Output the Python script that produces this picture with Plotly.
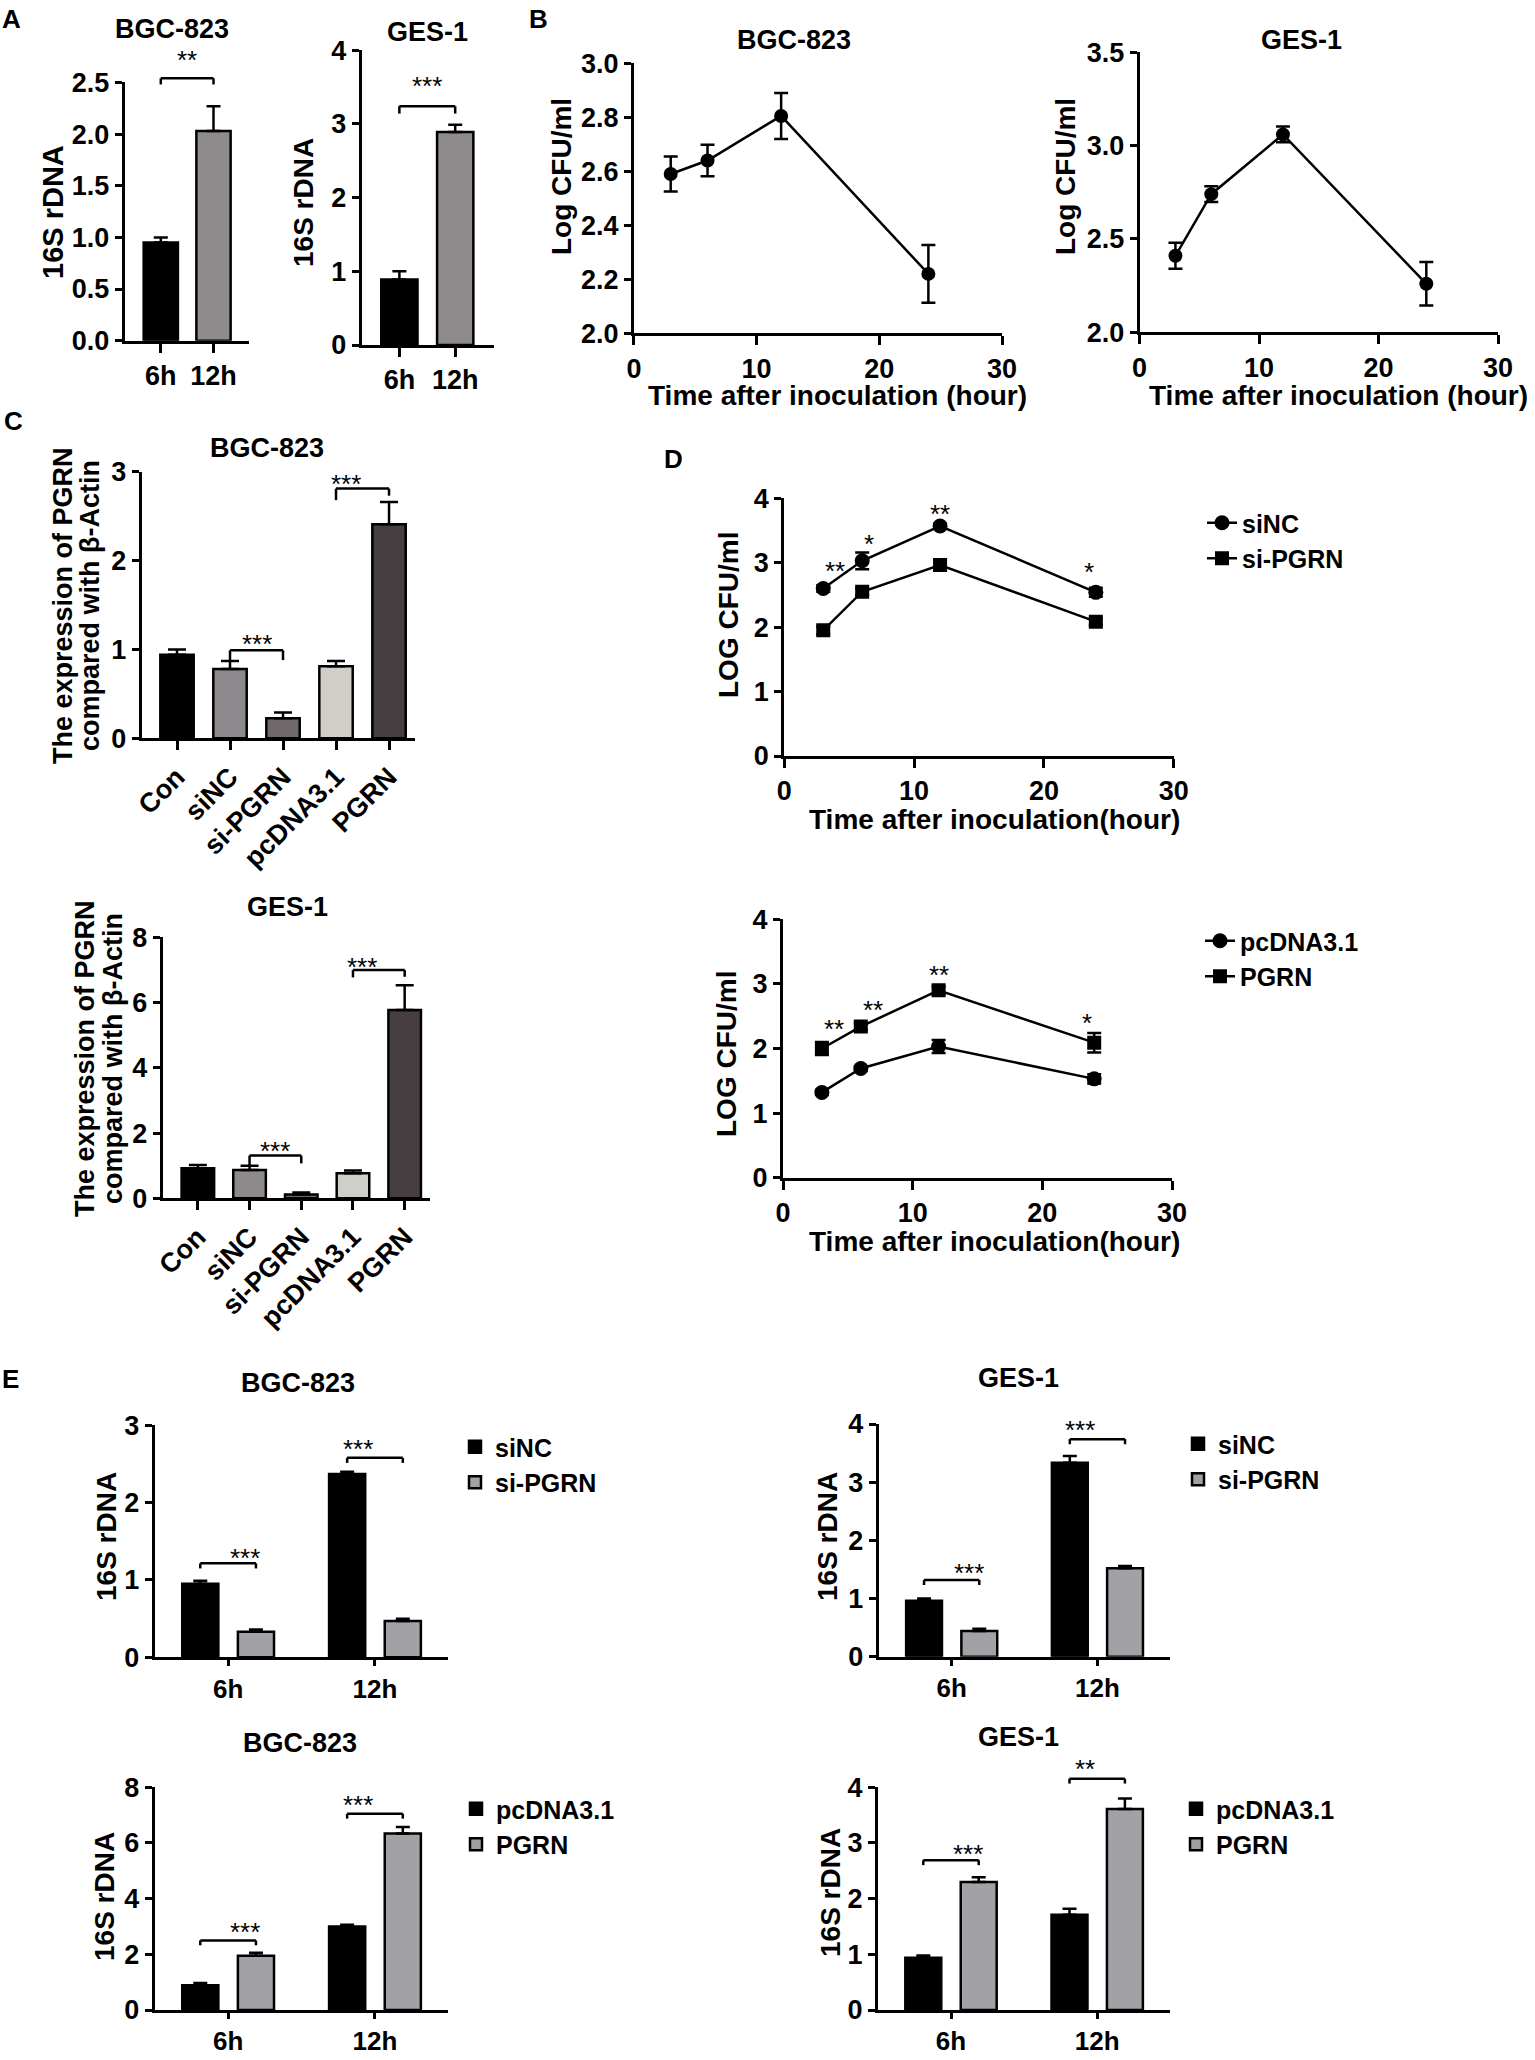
import plotly.graph_objects as go

W, H = 1535, 2060
FONT = "Liberation Sans, Arial, Helvetica, sans-serif"

# ---------------- data ----------------
# A: 16S rDNA, 6h vs 12h
a_times = ["6h", "12h"]
a1_vals = [0.95, 2.03]
a1_err = [0.05, 0.24]
a2_vals = [0.89, 2.89]
a2_err = [0.11, 0.10]

# B: Log CFU/ml after inoculation
b_hours = [3, 6, 12, 24]
b1_vals = [2.59, 2.64, 2.805, 2.22]
b1_err = [0.065, 0.058, 0.085, 0.107]
b2_vals = [2.41, 2.74, 3.06, 2.26]
b2_err = [0.07, 0.042, 0.042, 0.116]

# C: PGRN expression relative to beta-actin
c_groups = ["Con", "siNC", "si-PGRN", "pcDNA3.1", "PGRN"]
c1_vals = [0.94, 0.78, 0.225, 0.81, 2.41]
c1_err = [0.06, 0.09, 0.065, 0.06, 0.25]
c2_vals = [0.92, 0.87, 0.12, 0.77, 5.77]
c2_err = [0.10, 0.13, 0.06, 0.08, 0.76]

# D: LOG CFU/ml, knock-down / over-expression
d_hours = [3, 6, 12, 24]
d1_sinc = [2.60, 3.03, 3.57, 2.54]
d1_sinc_err = [0.05, 0.13, 0.04, 0.07]
d1_sipgrn = [1.95, 2.55, 2.965, 2.085]
d1_sipgrn_err = [0.06, 0.05, 0.09, 0.05]
d1_stars = ["**", "*", "**", "*"]
d1_star_y = [2.99, 3.42, 3.88, 2.98]
d2_pcdna = [1.32, 1.69, 2.03, 1.53]
d2_pcdna_err = [0.04, 0.04, 0.10, 0.07]
d2_pgrn = [2.00, 2.34, 2.90, 2.09]
d2_pgrn_err = [0.10, 0.05, 0.06, 0.15]
d2_stars = ["**", "**", "**", "*"]
d2_star_y = [2.42, 2.72, 3.26, 2.52]

# E: 16S rDNA, grouped
e_times = ["6h", "12h"]
e1_sinc = [0.95, 2.37]
e1_sinc_err = [0.04, 0.03]
e1_sipgrn = [0.33, 0.47]
e1_sipgrn_err = [0.03, 0.03]
e2_sinc = [0.96, 3.335]
e2_sinc_err = [0.04, 0.115]
e2_sipgrn = [0.44, 1.52]
e2_sipgrn_err = [0.04, 0.04]
e3_pcdna = [0.89, 3.00]
e3_pcdna_err = [0.08, 0.06]
e3_pgrn = [1.95, 6.34]
e3_pgrn_err = [0.11, 0.23]
e4_pcdna = [0.94, 1.71]
e4_pcdna_err = [0.04, 0.11]
e4_pgrn = [2.30, 3.61]
e4_pgrn_err = [0.085, 0.19]

# significance brackets: (bar a, bar b, level, drop a, drop b, label, label level)
a1_sig = [(0, 1, 2.54, 0.06, 0.06, "**", 2.79)]
a2_sig = [(0, 1, 3.24, 0.10, 0.10, "***", 3.62)]
c1_sig = [(1, 2, 0.99, 0.12, 0.11, "***", 1.15), (3, 4, 2.81, 0.13, 0.08, "***", 2.95)]
c2_sig = [(1, 2, 1.31, 0.29, 0.24, "***", 1.70), (3, 4, 7.00, 0.23, 0.21, "***", 7.34)]
# grouped: (group, level, label level, label)
e1_sig = [(0, 1.215, 1.39, "***"), (1, 2.58, 2.80, "***")]
e2_sig = [(0, 1.32, 1.58, "***"), (1, 3.74, 4.04, "***")]
e3_sig = [(0, 2.50, 3.10, "***"), (1, 7.05, 7.66, "***")]
e4_sig = [(0, 2.69, 2.95, "***"), (1, 4.155, 4.47, "**")]

GRAY_A = "#8f8a8c"
GRAY_E = "#a2a2a6"
C_COLORS = ["#000000", "#8e898c", "#6f696b", "#d0cec9", "#473e42"]

fig = go.Figure()
layout = {}
annotations = []
shapes = []


def tf(size=27):
    return dict(family=FONT, size=size, color="black", weight="bold")


def set_axes(n, x0, x1, ytop, ybot, xr, yr, xkw=None, ykw=None):
    sfx = "" if n == 1 else str(n)
    base = dict(showline=True, linecolor="black", linewidth=3, ticks="outside",
                tickcolor="black", tickwidth=3, showgrid=False, zeroline=False,
                tickfont=tf(), fixedrange=True)
    xa = dict(base, domain=[x0 / W, x1 / W], range=xr, anchor="y" + sfx, ticklen=9)
    ya = dict(base, domain=[1 - ybot / H, 1 - ytop / H], range=yr, anchor="x" + sfx, ticklen=7)
    xa.update(xkw or {})
    ya.update(ykw or {})
    layout["xaxis" + sfx] = xa
    layout["yaxis" + sfx] = ya
    return sfx


def text(x, y, s, size=28, angle=0, xanchor="center", yanchor="middle"):
    annotations.append(dict(x=x / W, y=1 - y / H, xref="paper", yref="paper", text=s,
                            showarrow=False, font=tf(size), textangle=angle,
                            xanchor=xanchor, yanchor=yanchor))


def frac(v, rng):
    return (v - rng[0]) / (rng[1] - rng[0])


def seg(sfx, xr, yr, xa, ya, xb, yb):
    shapes.append(dict(type="line", xref="x" + sfx + " domain", yref="y" + sfx + " domain",
                       x0=frac(xa, xr), y0=frac(ya, yr), x1=frac(xb, xr), y1=frac(yb, yr),
                       line=dict(color="black", width=2.5)))


def star(sfx, xr, yr, x, y, s, size=26):
    annotations.append(dict(x=frac(x, xr), y=frac(y, yr), xref="x" + sfx + " domain",
                            yref="y" + sfx + " domain", text=s, showarrow=False,
                            font=dict(family=FONT, size=size, color="black"),
                            yanchor="middle", yshift=-8))


def bracket(sfx, xr, yr, sig):
    for a, b, lev, da, db, lab, ly in sig:
        seg(sfx, xr, yr, a, lev - da, a, lev)
        seg(sfx, xr, yr, a, lev, b, lev)
        seg(sfx, xr, yr, b, lev, b, lev - db)
        star(sfx, xr, yr, (a + b) / 2, ly, lab)


def err(arr, w=7, sym=False):
    e = dict(type="data", array=arr, color="black", thickness=2.5, width=w)
    if not sym:
        e.update(symmetric=False, arrayminus=[0] * len(arr))
    return e


# ---------------- A ----------------
xr, yr = [-0.685, 1.666], [0, 2.5]
s = set_axes(1, 124.7, 248.6, 82.4, 340.7, xr, yr, ykw=dict(dtick=0.5, tickformat=".1f"))
fig.add_trace(go.Bar(x=a_times, y=a1_vals, width=0.65, marker=dict(color=["black", GRAY_A],
              line=dict(color="black", width=2.5)), error_y=err(a1_err), showlegend=False,
              xaxis="x" + s, yaxis="y" + s))
bracket(s, xr, yr, a1_sig)
text(172, 29, "BGC-823", 27)
text(53, 212, "16S rDNA", 29, -90)

xr, yr = [-0.677, 1.695], [0, 4]
s = set_axes(2, 361.6, 494, 50.2, 345, xr, yr, ykw=dict(dtick=1))
fig.add_trace(go.Bar(x=a_times, y=a2_vals, width=0.65, marker=dict(color=["black", GRAY_A],
              line=dict(color="black", width=2.5)), error_y=err(a2_err), showlegend=False,
              xaxis="x" + s, yaxis="y" + s))
bracket(s, xr, yr, a2_sig)
text(427, 32, "GES-1", 27)
text(303, 203, "16S rDNA", 28, -90)

# ---------------- B ----------------
for n, x0, x1, yt, yb, yr, dt, vals, errs, title, tx, ty, lx in [
    (3, 633.9, 1002, 63.3, 333.3, [2.0, 3.0], 0.2, b1_vals, b1_err, "BGC-823", 794, 40, 561),
    (4, 1139.6, 1498, 52.3, 332.3, [2.0, 3.5], 0.5, b2_vals, b2_err, "GES-1", 1301, 40, 1065),
]:
    s = set_axes(n, x0, x1, yt, yb, [0, 30], yr, xkw=dict(dtick=10),
                 ykw=dict(dtick=dt, tickformat=".1f"))
    fig.add_trace(go.Scatter(x=b_hours, y=vals, mode="lines+markers",
                             line=dict(color="black", width=2.5),
                             marker=dict(symbol="circle", size=14, color="black"),
                             error_y=err(errs, 7, True), showlegend=False,
                             xaxis="x" + s, yaxis="y" + s))
    text(tx, ty, title, 27)
    text(lx, 177, "Log CFU/ml", 28, -90)
    text((x0 + x1) / 2 + 20, 395, "Time after inoculation (hour)", 28)

# ---------------- C ----------------
for n, x0, x1, yt, yb, xr, yrng, dt, vals, errs, sig, title, tx, ty, l1, l2, ly in [
    (5, 141.7, 415, 471.7, 738.3, [-0.666, 4.49], [0, 3], 1, c1_vals, c1_err, c1_sig,
     "BGC-823", 267, 448, 63, 90, 606),
    (6, 162.7, 430, 937.3, 1198.3, [-0.68, 4.49], [0, 8], 2, c2_vals, c2_err, c2_sig,
     "GES-1", 287, 907, 85, 113, 1059),
]:
    s = set_axes(n, x0, x1, yt, yb, xr, yrng, xkw=dict(tickangle=-45),
                 ykw=dict(dtick=dt))
    fig.add_trace(go.Bar(x=c_groups, y=vals, width=0.63,
                         marker=dict(color=C_COLORS, line=dict(color="black", width=2.5)),
                         error_y=err(errs, 9), showlegend=False,
                         xaxis="x" + s, yaxis="y" + s))
    bracket(s, xr, yrng, sig)
    text(tx, ty, title, 27)
    text(l1, ly, "The expression of PGRN", 27, -90)
    text(l2, ly, "compared with β-Actin", 27, -90)

# ---------------- D ----------------
d_sets = [
    (7, 784.3, 1173.7, 498.3, 756, d1_sinc, d1_sinc_err, "siNC", d1_sipgrn, d1_sipgrn_err,
     "si-PGRN", d1_stars, d1_star_y, 728, 615, 819, "legend", 1202, 500),
    (8, 783, 1172, 919.3, 1177.7, d2_pcdna, d2_pcdna_err, "pcDNA3.1", d2_pgrn, d2_pgrn_err,
     "PGRN", d2_stars, d2_star_y, 726, 1054, 1241, "legend2", 1200, 918),
]
for (n, x0, x1, yt, yb, v1, e1, n1, v2, e2, n2, stars, star_y, lx, ly, xty, leg,
     legx, legy) in d_sets:
    xr, yr = [0, 30], [0, 4]
    s = set_axes(n, x0, x1, yt, yb, xr, yr, xkw=dict(dtick=10), ykw=dict(dtick=1))
    fig.add_trace(go.Scatter(x=d_hours, y=v1, name=n1, mode="lines+markers",
                             line=dict(color="black", width=2.5),
                             marker=dict(symbol="circle", size=15, color="black"),
                             error_y=err(e1, 7, True), legend=leg,
                             xaxis="x" + s, yaxis="y" + s))
    fig.add_trace(go.Scatter(x=d_hours, y=v2, name=n2, mode="lines+markers",
                             line=dict(color="black", width=2.5),
                             marker=dict(symbol="square", size=14, color="black"),
                             error_y=err(e2, 7, True), legend=leg,
                             xaxis="x" + s, yaxis="y" + s))
    for t, st, sy in zip(d_hours, stars, star_y):
        star(s, xr, yr, t, sy, st)
    text(lx, ly, "LOG CFU/ml", 28, -90)
    text(995, xty, "Time after inoculation(hour)", 28)
    layout[leg] = dict(x=legx / W, y=1 - legy / H, xanchor="left", yanchor="top",
                       font=tf(25), bgcolor="rgba(0,0,0,0)", tracegroupgap=0)

# ---------------- E ----------------
GD, BW = 0.379, 0.246
e_sets = [
    (9, 154.7, 448.4, 1425.3, 1657.3, [0, 3], 1, e1_sinc, e1_sinc_err, "siNC", e1_sipgrn,
     e1_sipgrn_err, "si-PGRN", e1_sig, "BGC-823", 298, 1383, 106, 1537, "legend3", 455, 1424),
    (10, 878.8, 1170.3, 1424, 1656.7, [0, 4], 1, e2_sinc, e2_sinc_err, "siNC", e2_sipgrn,
     e2_sipgrn_err, "si-PGRN", e2_sig, "GES-1", 1018, 1378, 827, 1537, "legend4", 1178, 1421),
    (11, 154.7, 448.4, 1787.3, 2010, [0, 8], 2, e3_pcdna, e3_pcdna_err, "pcDNA3.1", e3_pgrn,
     e3_pgrn_err, "PGRN", e3_sig, "BGC-823", 300, 1743, 104, 1897, "legend5", 456, 1786),
    (12, 877.9, 1170.3, 1787.3, 2010, [0, 4], 1, e4_pcdna, e4_pcdna_err, "pcDNA3.1", e4_pgrn,
     e4_pgrn_err, "PGRN", e4_sig, "GES-1", 1018, 1737, 830, 1893, "legend6", 1176, 1786),
]
for (n, x0, x1, yt, yb, yr, dt, v1, e1, n1, v2, e2, n2, sig, title, tx, ty, lx, ly, leg,
     legx, legy) in e_sets:
    xr = [-0.5, 1.5]
    s = set_axes(n, x0, x1, yt, yb, xr, yr, xkw=dict(ticklen=6, tickfont=tf(26)),
                 ykw=dict(dtick=dt))
    fig.add_trace(go.Bar(x=e_times, y=v1, name=n1, width=BW, offset=-GD / 2 - BW / 2,
                         marker=dict(color="black", line=dict(color="black", width=2.5)),
                         error_y=err(e1, 7), legend=leg, xaxis="x" + s, yaxis="y" + s))
    fig.add_trace(go.Bar(x=e_times, y=v2, name=n2, width=BW, offset=GD / 2 - BW / 2,
                         marker=dict(color=GRAY_E, line=dict(color="black", width=2.5)),
                         error_y=err(e2, 7), legend=leg, xaxis="x" + s, yaxis="y" + s))
    dy = (yr[1] - yr[0]) * 0.022
    for g, lev, lab_y, lab in sig:
        seg(s, xr, yr, g - GD / 2, lev - dy, g - GD / 2, lev)
        seg(s, xr, yr, g - GD / 2, lev, g + GD / 2, lev)
        seg(s, xr, yr, g + GD / 2, lev, g + GD / 2, lev - dy)
        star(s, xr, yr, g, lab_y, lab)
    text(tx, ty, title, 27)
    text(lx, ly, "16S rDNA", 28, -90)
    layout[leg] = dict(x=legx / W, y=1 - legy / H, xanchor="left", yanchor="top",
                       font=tf(25), bgcolor="rgba(0,0,0,0)", tracegroupgap=0)

# panel letters
for lab, x, y in [("A", 0, 2), ("B", 527, 2), ("C", 2, 404), ("D", 662, 442), ("E", 0, 1362)]:
    text(x, y, lab, 26, xanchor="left", yanchor="top")

fig.update_layout(**layout)
fig.update_layout(width=W, height=H,
                  margin=dict(l=0, r=0, t=0, b=0, autoexpand=False),
                  paper_bgcolor="white", plot_bgcolor="white", barmode="overlay",
                  font=dict(family=FONT, color="black"),
                  annotations=annotations, shapes=shapes)

fig.write_html("out.html", config={"displayModeBar": False},
               post_script="document.body.style.margin='0';document.body.style.overflow='hidden';")
